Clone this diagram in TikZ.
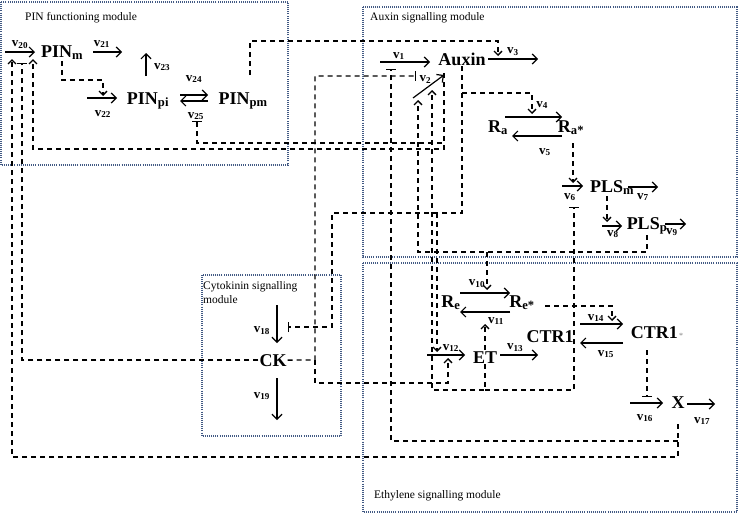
\documentclass[tikz,border=0pt]{standalone}
\usepackage{fontspec}
\setmainfont{Liberation Serif}
\newcommand{\rate}[1]{v\textsubscript{#1}}
\usetikzlibrary{arrows.meta}
\definecolor{modblue}{RGB}{66,90,132}
\tikzset{x=1pt, y=-1pt,
    species/.style={inner sep=1pt, font=\fontsize{18}{20}\selectfont\bfseries},
    ratelbl/.style={inner sep=1.5pt, font=\fontsize{13}{14}\selectfont\bfseries},
    modlabel/.style={inner sep=0pt, align=left, font=\fontsize{11.5}{14}\selectfont},
    module/.style={draw=modblue, line width=1.5pt, dash pattern=on 1pt off 1.1pt},
    rxn/.style={-{Straight Barb[length=5pt,width=10pt]}, line width=1.2pt},
    reg/.style={line width=1.3pt, dash pattern=on 5pt off 4pt},
    act/.style={reg, -{Straight Barb[length=4pt,width=8pt]}},
    inh/.style={reg, -{Bar[width=10pt]}}}

\begin{document}
\begin{tikzpicture}
\useasboundingbox (0,0) rectangle (738,514);
% modules
\draw[module] (1,2) rectangle (288,165);
\draw[module] (363,7) rectangle (737,257);
\draw[module] (363,263) rectangle (737,512);
\draw[module] (202,275) rectangle (341,436);
\node[modlabel, anchor=west]       (pinmod) at (25,18)   {PIN functioning module};
\node[modlabel, anchor=west]       (auxmod) at (370,18)  {Auxin signalling module};
\node[modlabel, anchor=west]       (ethmod) at (374,496) {Ethylene signalling module};
\node[modlabel, anchor=north west] (ckmod)  at (203,281) {Cytokinin signalling\\module};

% species
\node[species, anchor=base] (pinm)  at (62,57)   {PIN\textsubscript{m}};
\node[species, anchor=base] (pinpi) at (148,104) {PIN\textsubscript{pi}};
\node[species, anchor=base] (pinpm) at (243,104) {PIN\textsubscript{pm}};
\node[species, anchor=base] (auxin) at (462,65)  {Auxin};
\node[species, anchor=base] (ra)    at (498,132) {R\textsubscript{a}};
\node[species, anchor=base] (ras)   at (571,132) {R\textsubscript{a*}};
\node[species, anchor=base] (plsm)  at (612,192) {PLS\textsubscript{m}};
\node[species, anchor=base] (plsp)  at (647,229) {PLS\textsubscript{p}};
\node[species, anchor=base] (re)    at (451,307) {R\textsubscript{e}};
\node[species, anchor=base] (res)   at (522,307) {R\textsubscript{e*}};
\node[species, anchor=base] (ctr)   at (550,342) {CTR1};
\node[species, anchor=base] (et)    at (485,363) {ET};
\node[species, anchor=base] (ctrs)  at (657,338) {CTR1{\fontsize{8}{8}\selectfont\mdseries\color{gray}\,*}};
\node[species, anchor=base] (xx)    at (678,408) {X};
\node[species, anchor=base] (ck)    at (273,366) {CK};

% reactions
\coordinate (r20a) at (5,52);    \coordinate (r20b) at (35,52);
\coordinate (r21a) at (93,52);   \coordinate (r21b) at (122,52);
\coordinate (r22a) at (87,98);   \coordinate (r22b) at (117,98);
\coordinate (r23a) at (146,76);  \coordinate (r23b) at (146,53);
\coordinate (r24a) at (180,95);  \coordinate (r24b) at (208,95);
\coordinate (r25a) at (208,101); \coordinate (r25b) at (180,101);
\coordinate (r1a)  at (380,62);  \coordinate (r1b)  at (430,62);
\coordinate (r2a)  at (413,98);  \coordinate (r2b)  at (444,75);
\coordinate (r3a)  at (488,59);  \coordinate (r3b)  at (538,59);
\coordinate (r4a)  at (505,117); \coordinate (r4b)  at (562,117);
\coordinate (r5a)  at (562,136); \coordinate (r5b)  at (512,136);
\coordinate (r6a)  at (562,186); \coordinate (r6b)  at (583,186);
\coordinate (r7a)  at (628,187); \coordinate (r7b)  at (658,187);
\coordinate (r8a)  at (602,226); \coordinate (r8b)  at (622,226);
\coordinate (r9a)  at (665,224); \coordinate (r9b)  at (686,224);
\coordinate (r10a) at (460,293); \coordinate (r10b) at (510,293);
\coordinate (r11a) at (510,312); \coordinate (r11b) at (460,312);
\coordinate (r12a) at (427,355); \coordinate (r12b) at (465,355);
\coordinate (r13a) at (500,355); \coordinate (r13b) at (538,355);
\coordinate (r14a) at (580,324); \coordinate (r14b) at (623,324);
\coordinate (r15a) at (623,343); \coordinate (r15b) at (580,343);
\coordinate (r16a) at (630,403); \coordinate (r16b) at (663,403);
\coordinate (r17a) at (687,404); \coordinate (r17b) at (715,404);
\coordinate (r18a) at (277,305); \coordinate (r18b) at (277,343);
\coordinate (r19a) at (277,378); \coordinate (r19b) at (277,420);
\path[rxn]
    (r20a) edge node[ratelbl, above=1pt]           {\rate{20}} (r20b)
    (r21a) edge node[ratelbl, pos=.31, above=2pt]  {\rate{21}} (r21b)
    (r22a) edge node[ratelbl, pos=.53, below=10pt] {\rate{22}} (r22b)
    (r23a) edge node[ratelbl, pos=.39, right=6pt]  {\rate{23}} (r23b)
    (r24a) edge node[ratelbl, above=10pt]          {\rate{24}} (r24b)
    (r25a) edge node[ratelbl, pos=.43, below=9pt]  {\rate{25}} (r25b)
    (r1a)  edge node[ratelbl, pos=.38, above=0pt]  {\rate{1}}  (r1b)
    (r2a)  edge node[ratelbl, pos=.4, above=3pt]   {\rate{2}}  (r2b)
    (r3a)  edge node[ratelbl, above=1pt]           {\rate{3}}  (r3b)
    (r4a)  edge node[ratelbl, pos=.65, above=6pt]  {\rate{4}}  (r4b)
    (r5a)  edge node[ratelbl, pos=.34, below=10pt] {\rate{5}}  (r5b)
    (r6a)  edge node[ratelbl, pos=.38, below=5pt]  {\rate{6}}  (r6b)
    (r7a)  edge node[ratelbl, below=4pt]           {\rate{7}}  (r7b)
    (r8a)  edge node[ratelbl, pos=.55, below=2pt]  {\rate{8}}  (r8b)
    (r9a)  edge node[ratelbl, pos=.33, below=2pt]  {\rate{9}}  (r9b)
    (r10a) edge node[ratelbl, pos=.34, above=3pt]  {\rate{10}} (r10b)
    (r11a) edge node[ratelbl, pos=.28, below=3pt]  {\rate{11}} (r11b)
    (r12a) edge node[ratelbl, pos=.63, above=1pt]  {\rate{12}} (r12b)
    (r13a) edge node[ratelbl, pos=.4, above=1pt]   {\rate{13}} (r13b)
    (r14a) edge node[ratelbl, pos=.37, above=0pt]  {\rate{14}} (r14b)
    (r15a) edge node[ratelbl, pos=.4, below=5pt]   {\rate{15}} (r15b)
    (r16a) edge node[ratelbl, pos=.45, below=9pt]  {\rate{16}} (r16b)
    (r17a) edge node[ratelbl, pos=.54, below=11pt] {\rate{17}} (r17b)
    (r18a) edge node[ratelbl, pos=.68, left=5pt]   {\rate{18}} (r18b)
    (r19a) edge node[ratelbl, pos=.43, left=5pt]   {\rate{19}} (r19b);

% regulation: junctions and targets
\coordinate (auxL) at (444,73);   \coordinate (ja4)  at (462,93);
\coordinate (ja12) at (437,213);  \coordinate (k18)  at (332,327);
\coordinate (j25)  at (197,143);  \coordinate (j20a) at (33,149);
\coordinate (j22)  at (103,80);   \coordinate (s3)   at (250,75);
\coordinate (j3)   at (498,41);   \coordinate (sX)   at (678,424);
\coordinate (jX)   at (678,441);  \coordinate (j20x) at (12,457);
\coordinate (jck)  at (315,360);  \coordinate (j12c) at (448,383);
\coordinate (s6)   at (573,143);  \coordinate (s8)   at (607,196);
\coordinate (jp10) at (487,252);  \coordinate (je)   at (485,390);
\coordinate (s14)  at (545,306);  \coordinate (s16)  at (647,350);
\coordinate (t20x) at (12,59);    \coordinate (t20c) at (22,63);   \coordinate (t20a) at (33,59);
\coordinate (t22)  at (103,96);   \coordinate (t25)  at (197,121);
\coordinate (t1)   at (391,69);   \coordinate (t2c)  at (416,76);  \coordinate (t2p)  at (418,100);
\coordinate (t2e)  at (432,90);   \coordinate (t3)   at (498,56);  \coordinate (t4)   at (532,114);
\coordinate (t6a)  at (573,183);  \coordinate (t6i)  at (574,207); \coordinate (t8)   at (607,222);
\coordinate (t10)  at (487,290);  \coordinate (t11)  at (485,324); \coordinate (t12a) at (437,352);
\coordinate (t12c) at (448,358);  \coordinate (t14)  at (612,321); \coordinate (t16)  at (647,397);
\coordinate (t18)  at (288,327);

\draw[act] (pinm.south) |- (j22) -- (t22);
\draw[act] (s3) |- (j3) -- (t3);
\draw[inh] (auxL) |- (j25) -- (t25);
\draw[act] (auxL) |- (j20a) -- (t20a);
\draw[inh] (auxin.south) -- (auxin.south |- ja12) -| (k18) -- (t18);
\draw[act] (ja4) -| (t4);
\draw[act] (ja12) -- (t12a);
\draw[act] (sX) |- (j20x) -- (t20x);
\draw[inh] (jX) -| (t1);
\draw[inh] (ck.west) -| (t20c);
\draw[inh] (ck.east) -- (jck) |- (t2c);
\draw[act] (jck) |- (j12c) -- (t12c);
\draw[act] (s6) -- (t6a);
\draw[act] (s8) -- (t8);
\draw[act] (plsp.south) -- (plsp.south |- jp10) -| (t2p);
\draw[act] (jp10) -- (t10);
\draw[act] (et.north) -- (t11);
\draw[act] (et.south) -- (je) -| (t2e);
\draw[inh] (je) -| (t6i);
\draw[act] (s14) -| (t14);
\draw[inh] (s16) -- (t16);
\end{tikzpicture}
\end{document}
